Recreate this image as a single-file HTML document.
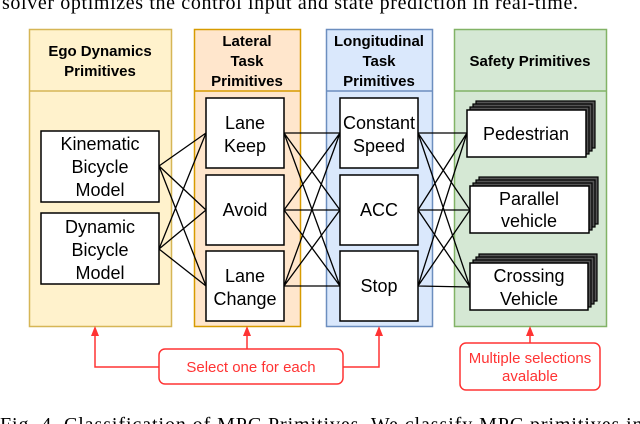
<!DOCTYPE html>
<html><head><meta charset="utf-8"><style>
html,body{margin:0;padding:0;background:#fff;}
svg{display:block;}
.h{font-family:"Liberation Sans",sans-serif;font-weight:bold;font-size:15px;fill:#000;text-anchor:middle;}
.t{font-family:"Liberation Sans",sans-serif;font-size:18px;fill:#000;text-anchor:middle;}
.r{font-family:"Liberation Sans",sans-serif;font-size:15px;fill:#ff3333;text-anchor:middle;}
.s{font-family:"Liberation Serif",serif;font-size:20px;fill:#000;}
</style></head><body>
<svg width="640" height="424" viewBox="0 0 640 424" xmlns="http://www.w3.org/2000/svg">
<text class="s" x="2" y="9" textLength="576" lengthAdjust="spacing">solver optimizes the control input and state prediction in real-time.</text>
<text class="s" x="0" y="431" textLength="660" lengthAdjust="spacing">Fig. 4.   Classification of MPC Primitives. We classify MPC primitives into</text>

<!-- panels -->
<rect x="29.5" y="29.5" width="142" height="297" fill="#fff2cc" stroke="#d6b656" stroke-width="1.5"/>
<line x1="29.5" y1="91" x2="171.5" y2="91" stroke="#d6b656" stroke-width="1.5"/>
<rect x="194.5" y="29.5" width="106" height="297" fill="#ffe6cc" stroke="#d79b00" stroke-width="1.5"/>
<line x1="194.5" y1="91" x2="300.5" y2="91" stroke="#d79b00" stroke-width="1.5"/>
<rect x="326.5" y="29.5" width="106" height="297" fill="#dae8fc" stroke="#6c8ebf" stroke-width="1.5"/>
<line x1="326.5" y1="91" x2="432.5" y2="91" stroke="#6c8ebf" stroke-width="1.5"/>
<rect x="454.5" y="29.5" width="152" height="297" fill="#d5e8d4" stroke="#82b366" stroke-width="1.5"/>
<line x1="454.5" y1="91" x2="606.5" y2="91" stroke="#82b366" stroke-width="1.5"/>

<text class="h" x="100" y="56">Ego Dynamics</text>
<text class="h" x="100" y="76">Primitives</text>
<text class="h" x="247" y="46">Lateral</text>
<text class="h" x="247" y="66">Task</text>
<text class="h" x="247" y="86">Primitives</text>
<text class="h" x="379" y="46">Longitudinal</text>
<text class="h" x="379" y="66">Task</text>
<text class="h" x="379" y="86">Primitives</text>
<text class="h" x="530" y="66">Safety Primitives</text>

<!-- connectors -->
<g stroke="#000" stroke-width="1.3" fill="none">
<path d="M159 166L206 133M159 166L206 210M159 166L206 286M159 249L206 133M159 249L206 210M159 249L206 286"/>
<path d="M284 133L340 133M284 133L340 210M284 133L340 286M284 210L340 133M284 210L340 210M284 210L340 286M284 286L340 133M284 286L340 210M284 286L340 286"/>
<path d="M418 133L467 133M418 133L470 210M418 133L470 287M418 210L467 133M418 210L470 210M418 210L470 287M418 286L467 133M418 286L470 210M418 286L470 287"/>
</g>

<!-- boxes -->
<g fill="#fff" stroke="#000" stroke-width="1.5">
<rect x="41" y="131" width="118" height="71"/>
<rect x="41" y="213" width="118" height="71"/>
<rect x="206" y="98" width="78" height="70"/>
<rect x="206" y="175" width="78" height="70"/>
<rect x="206" y="251" width="78" height="70"/>
<rect x="340" y="98" width="78" height="70"/>
<rect x="340" y="175" width="78" height="70"/>
<rect x="340" y="251" width="78" height="70"/>
</g>
<!-- stacked safety boxes -->
<g stroke="#000" stroke-width="1.2">
<rect x="476" y="101" width="119" height="47" fill="#555"/>
<rect x="473" y="104" width="119" height="47" fill="#555"/>
<rect x="470" y="107" width="119" height="47" fill="#555"/>
<rect x="467" y="110" width="119" height="47" fill="#fff" stroke-width="1.5"/>
<rect x="479" y="177" width="119" height="47" fill="#555"/>
<rect x="476" y="180" width="119" height="47" fill="#555"/>
<rect x="473" y="183" width="119" height="47" fill="#555"/>
<rect x="470" y="186" width="119" height="47" fill="#fff" stroke-width="1.5"/>
<rect x="479" y="254" width="118" height="47" fill="#555"/>
<rect x="476" y="257" width="118" height="47" fill="#555"/>
<rect x="473" y="260" width="118" height="47" fill="#555"/>
<rect x="470" y="263" width="118" height="47" fill="#fff" stroke-width="1.5"/>
</g>

<text class="t" x="100" y="150">Kinematic</text>
<text class="t" x="100" y="173">Bicycle</text>
<text class="t" x="100" y="196">Model</text>
<text class="t" x="100" y="233">Dynamic</text>
<text class="t" x="100" y="256">Bicycle</text>
<text class="t" x="100" y="279">Model</text>
<text class="t" x="245" y="129">Lane</text>
<text class="t" x="245" y="152">Keep</text>
<text class="t" x="245" y="216">Avoid</text>
<text class="t" x="245" y="282">Lane</text>
<text class="t" x="245" y="305">Change</text>
<text class="t" x="379" y="129">Constant</text>
<text class="t" x="379" y="152">Speed</text>
<text class="t" x="379" y="216">ACC</text>
<text class="t" x="379" y="292">Stop</text>
<text class="t" x="526" y="140">Pedestrian</text>
<text class="t" x="529" y="205">Parallel</text>
<text class="t" x="529" y="227">vehicle</text>
<text class="t" x="529" y="282">Crossing</text>
<text class="t" x="529" y="305">Vehicle</text>

<!-- red annotations -->
<g stroke="#ff3333" stroke-width="1.5" fill="none">
<path d="M159 367H95V334M343 367H379V334M247 349V334M530 343V334"/>
<rect x="159" y="349" width="184" height="35" rx="6" fill="#fff"/>
<rect x="460" y="343" width="140" height="47" rx="6" fill="#fff"/>
</g>
<g fill="#ff3333">
<path d="M95 326L91 336H99Z"/>
<path d="M247 326L243 336H251Z"/>
<path d="M379 326L375 336H383Z"/>
<path d="M530 326L526 336H534Z"/>
</g>
<text class="r" x="251" y="372">Select one for each</text>
<text class="r" x="530" y="363">Multiple selections</text>
<text class="r" x="530" y="381">avalable</text>
</svg>
</body></html>
